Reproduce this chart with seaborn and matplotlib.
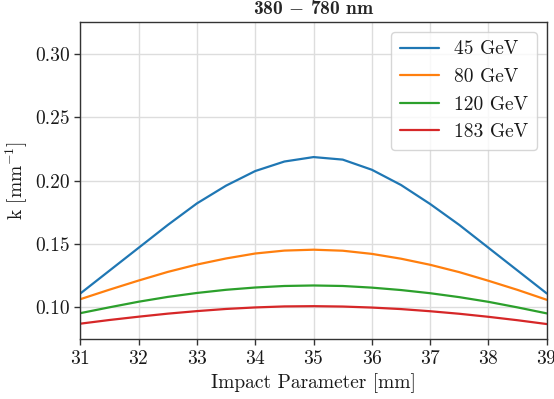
import numpy as np
import pandas as pd
import matplotlib
matplotlib.use("Agg")
import matplotlib.pyplot as plt
import seaborn as sns

# Impact parameter scan [mm]
impact = [31.0, 31.5, 32.0, 32.5, 33.0, 33.5, 34.0, 34.5, 35.0,
          35.5, 36.0, 36.5, 37.0, 37.5, 38.0, 38.5, 39.0]

# Absorption coefficient k [1/mm] per beam energy
k_45 = [0.111, 0.129, 0.147, 0.165, 0.182, 0.196, 0.2075, 0.215, 0.2185,
        0.2165, 0.2085, 0.1965, 0.1815, 0.165, 0.147, 0.129, 0.111]
k_80 = [0.1065, 0.114, 0.1212, 0.128, 0.1338, 0.1386, 0.1425, 0.1448, 0.1455,
        0.1447, 0.1422, 0.1384, 0.1336, 0.1278, 0.121, 0.1138, 0.106]
k_120 = [0.0955, 0.1001, 0.1045, 0.1083, 0.1114, 0.1139, 0.1157, 0.1169, 0.1173,
         0.1169, 0.1156, 0.1137, 0.1112, 0.1081, 0.1044, 0.1, 0.0953]
k_183 = [0.0872, 0.0901, 0.0927, 0.0951, 0.0971, 0.0988, 0.1, 0.1008, 0.101,
         0.1007, 0.0999, 0.0987, 0.097, 0.095, 0.0926, 0.0899, 0.0869]

energies = ["45 GeV", "80 GeV", "120 GeV", "183 GeV"]
series = [k_45, k_80, k_120, k_183]

x_ticks = [31, 32, 33, 34, 35, 36, 37, 38, 39]
y_ticks = [0.10, 0.15, 0.20, 0.25, 0.30]

df = pd.concat(
    [pd.DataFrame({"b": impact, "k": vals, "energy": name})
     for name, vals in zip(energies, series)],
    ignore_index=True,
)

sns.set_theme(style="whitegrid", rc={
    "axes.edgecolor": "0.2",
    "axes.linewidth": 1.0,
    "grid.color": "#dddddd",
    "grid.linewidth": 1.0,
    "xtick.bottom": True,
    "ytick.left": True,
    "xtick.major.size": 4,
    "ytick.major.size": 4,
    "xtick.major.width": 1.0,
    "ytick.major.width": 1.0,
    "xtick.color": "0.2",
    "ytick.color": "0.2",
})
plt.rcParams["font.family"] = ["cmr10", "DejaVu Serif"]
plt.rcParams["mathtext.fontset"] = "cm"
plt.rcParams["axes.formatter.use_mathtext"] = True
plt.rcParams["axes.unicode_minus"] = True

fig = plt.figure(figsize=(5.54, 3.99), dpi=100)
ax = fig.add_axes([0.145, 0.150, 0.842, 0.795])

palette = sns.color_palette("tab10", 4)
sns.lineplot(data=df, x="b", y="k", hue="energy", palette=palette,
             linewidth=1.6, ax=ax)

ax.set_xlim(31, 39)
ax.set_ylim(0.075, 0.325)
ax.set_xticks(x_ticks)
ax.set_yticks(y_ticks)
ax.set_yticklabels([f"{v:.2f}" for v in y_ticks])
ax.tick_params(labelsize=14, colors="0.2", labelcolor="0.1")

ax.set_xlabel("Impact Parameter [mm]", fontsize=14, color="0.1")
ax.set_ylabel(r"k [mm$^{-1}$]", fontsize=14, color="0.1")
ax.set_title(r"380 $\boldsymbol{-}$ 780 nm", fontsize=14, pad=6,
             fontfamily=["cmb10", "DejaVu Serif"])

leg = ax.legend(loc="upper right", fontsize=14, title=None,
                framealpha=0.8, edgecolor="#cccccc", fancybox=True,
                handlelength=2.0, borderpad=0.45, labelspacing=0.5)
for t in leg.get_texts():
    t.set_color("0.1")

fig.savefig("out.png", dpi=100)
